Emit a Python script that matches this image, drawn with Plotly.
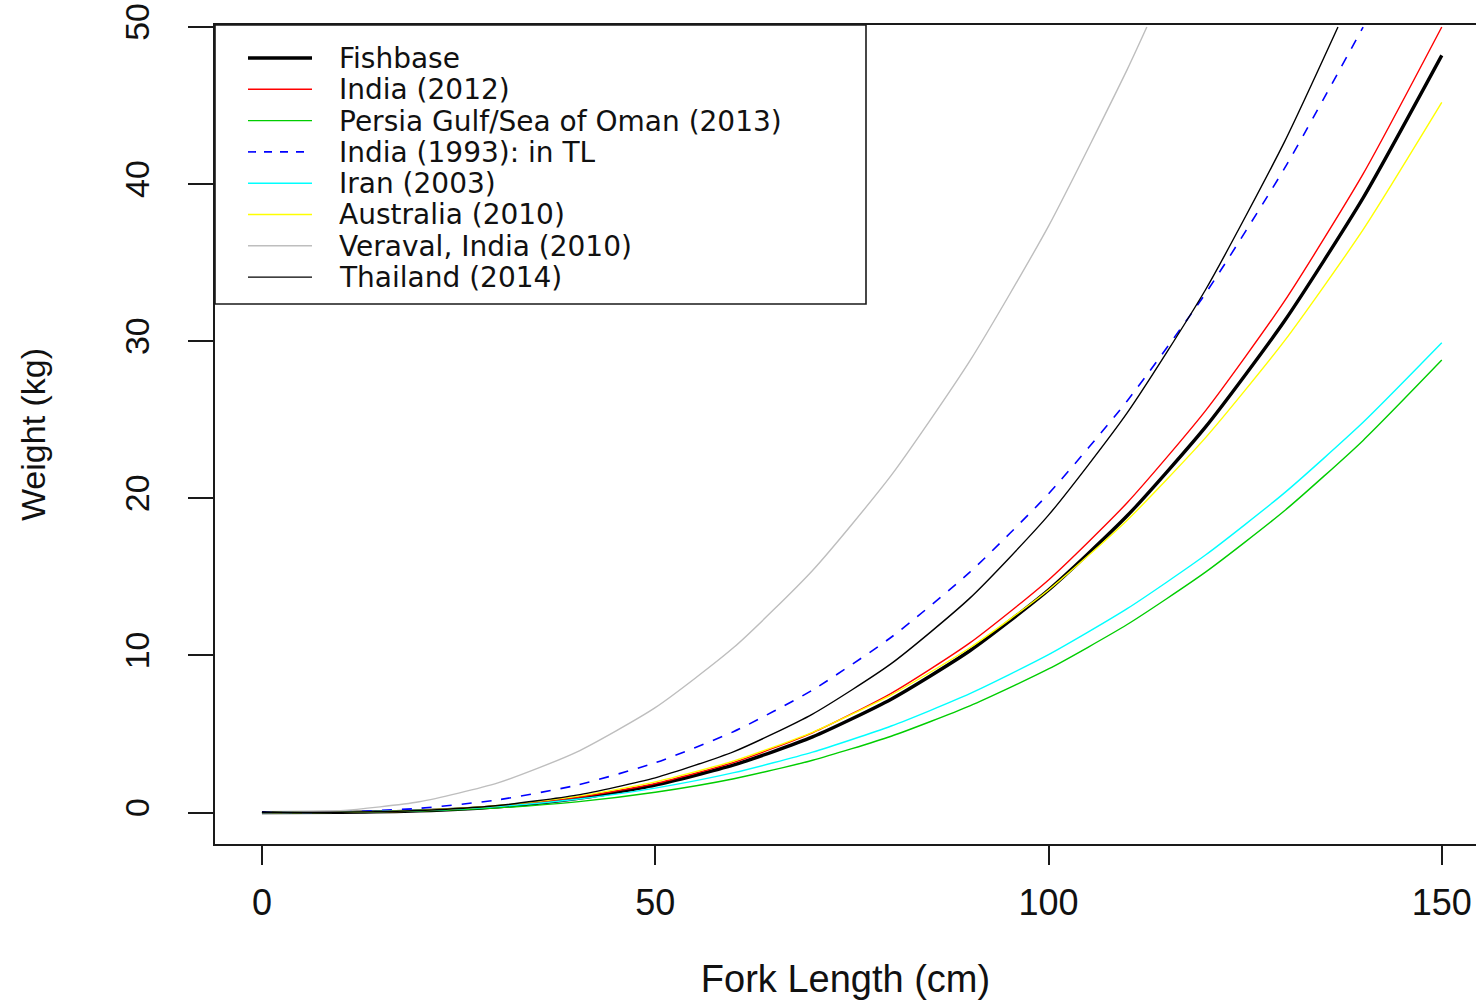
import plotly.graph_objects as go

# ---------------- data ----------------
series_names = [
    "Fishbase",
    "India (2012)",
    "Persia Gulf/Sea of Oman (2013)",
    "India (1993): in TL",
    "Iran (2003)",
    "Australia (2010)",
    "Veraval, India (2010)",
    "Thailand (2014)",
]

length_full = [0, 10, 20, 30, 40, 50, 60, 70, 80, 90, 100, 110, 120, 130, 140, 150]

fishbase_w = [0, 0.014, 0.11, 0.37, 0.89, 1.75, 3.03, 4.82, 7.22, 10.30, 14.17, 18.89, 24.57, 31.29, 39.13, 48.2]
india2012_w = [0, 0.015, 0.12, 0.40, 0.95, 1.85, 3.20, 5.08, 7.59, 10.80, 14.81, 19.72, 25.60, 32.55, 40.65, 50.0]
persia_w = [0, 0.014, 0.10, 0.30, 0.68, 1.29, 2.15, 3.33, 4.86, 6.79, 9.14, 11.97, 15.32, 19.21, 23.69, 28.8]
iran_w = [0, 0.02, 0.13, 0.39, 0.85, 1.56, 2.54, 3.85, 5.51, 7.57, 10.05, 12.98, 16.41, 20.35, 24.84, 29.9]
australia_w = [0, 0.02, 0.14, 0.45, 1.03, 1.95, 3.29, 5.11, 7.49, 10.49, 14.17, 18.61, 23.88, 30.02, 37.10, 45.2]

india1993_l = [0, 10, 20, 30, 40, 50, 60, 70, 80, 90, 100, 110, 120, 130, 140]
india1993_w = [0, 0.04, 0.27, 0.81, 1.74, 3.17, 5.16, 7.80, 11.16, 15.30, 20.29, 26.20, 33.07, 41.0, 50.0]

veraval_l = [0, 10, 20, 30, 40, 50, 60, 70, 80, 90, 100, 110, 112.5]
veraval_w = [0, 0.12, 0.69, 1.89, 3.85, 6.68, 10.52, 15.41, 21.46, 28.75, 37.33, 47.29, 50.0]

thailand_l = [0, 10, 20, 30, 40, 50, 60, 70, 80, 90, 100, 110, 120, 130, 136.8]
thailand_w = [0, 0.02, 0.13, 0.45, 1.11, 2.21, 3.88, 6.27, 9.48, 13.65, 18.93, 25.44, 33.31, 42.69, 50.0]

x_ticks = [0, 50, 100, 150]
y_ticks = [0, 10, 20, 30, 40, 50]

# ---------------- styles ----------------
colors = ["#000000", "#FF0000", "#00CD00", "#0000FF", "#00FFFF", "#FFFF00", "#BEBEBE", "#000000"]
widths = [3.4, 1.4, 1.4, 1.6, 1.4, 1.4, 1.4, 1.4]
dashes = ["solid", "solid", "solid", "10px,10px", "solid", "solid", "solid", "solid"]

xs = [length_full, length_full, length_full, india1993_l, length_full, length_full, veraval_l, thailand_l]
ys = [fishbase_w, india2012_w, persia_w, india1993_w, iran_w, australia_w, veraval_w, thailand_w]

# ---------------- layout geometry (pixels) ----------------
W, H = 1476, 1000
ML, MR, MT, MB = 215, 0, 25, 156
PW = W - ML - MR
PH = H - MT - MB


def px2paper_x(px):
    return (px - ML) / PW


def px2paper_y(py):
    return (H - MB - py) / PH


fig = go.Figure()
for name, x, y, c, w, d in zip(series_names, xs, ys, colors, widths, dashes):
    fig.add_trace(go.Scatter(
        x=x, y=y, mode="lines", name=name,
        line=dict(color=c, width=w, dash=d, shape="spline", smoothing=0.6),
        showlegend=False, hoverinfo="x+y+name",
    ))

# ---------------- legend box (drawn like R's legend) ----------------
shapes = []
annotations = []
leg_left, leg_right, leg_top, leg_bottom = 215, 866, 25, 304
shapes.append(dict(type="rect", xref="paper", yref="paper",
                   x0=px2paper_x(leg_left), x1=px2paper_x(leg_right),
                   y0=px2paper_y(leg_bottom), y1=px2paper_y(leg_top),
                   line=dict(color="#1a1a1a", width=1.6), fillcolor="rgba(0,0,0,0)"))
row0, row_gap = 58, 31.3
for i, (name, c, w, d) in enumerate(zip(series_names, colors, widths, dashes)):
    ry = row0 + row_gap * i
    shapes.append(dict(type="line", xref="paper", yref="paper",
                       x0=px2paper_x(248), x1=px2paper_x(312),
                       y0=px2paper_y(ry), y1=px2paper_y(ry),
                       line=dict(color=c, width=w, dash=("8px,8px" if d != "solid" else "solid"))))
    annotations.append(dict(xref="paper", yref="paper", x=px2paper_x(338), y=px2paper_y(ry + 0.5),
                            text=name, showarrow=False, xanchor="left", yanchor="middle",
                            height=31, borderpad=0,
                            font=dict(family="DejaVu Sans", size=28, color="#111111")))

fig.update_layout(
    width=W, height=H,
    margin=dict(l=ML, r=MR, t=MT, b=MB, pad=0),
    paper_bgcolor="white", plot_bgcolor="white",
    font=dict(family="Liberation Sans, Arial", color="#111111"),
    showlegend=False,
    shapes=shapes,
    annotations=annotations,
    xaxis=dict(
        range=[-5.97, 154.35], tickmode="array", tickvals=x_ticks,
        ticktext=[str(v) for v in x_ticks],
        ticks="outside", ticklen=19, tickwidth=1.6, tickcolor="#1a1a1a",
        showline=True, linecolor="#1a1a1a", linewidth=1.6, mirror=True,
        showgrid=False, zeroline=False,
        tickfont=dict(size=36, family="Liberation Sans, Arial", color="#111111"),
        ticklabelstandoff=7,
        title=dict(text="Fork Length (cm)", font=dict(size=38, family="Liberation Sans, Arial", color="#111111"),
                   standoff=45),
    ),
    yaxis=dict(
        range=[-2.0, 50.13], tickmode="array", tickvals=y_ticks,
        ticktext=[str(v) for v in y_ticks],
        ticks="outside", ticklen=25, tickwidth=1.6, tickcolor="#1a1a1a",
        showline=True, linecolor="#1a1a1a", linewidth=1.6, mirror=False,
        showgrid=False, zeroline=False, tickangle=-90,
        tickfont=dict(size=34, family="Liberation Sans, Arial", color="#111111"),
        ticklabelstandoff=26,
        title=dict(text="Weight (kg)", font=dict(size=34, family="Liberation Sans, Arial", color="#111111"),
                   standoff=62),
    ),
)

fig.write_html("out.html",
               config={"displayModeBar": False},
               post_script="document.body.style.margin='0';document.body.style.overflow='hidden';")
